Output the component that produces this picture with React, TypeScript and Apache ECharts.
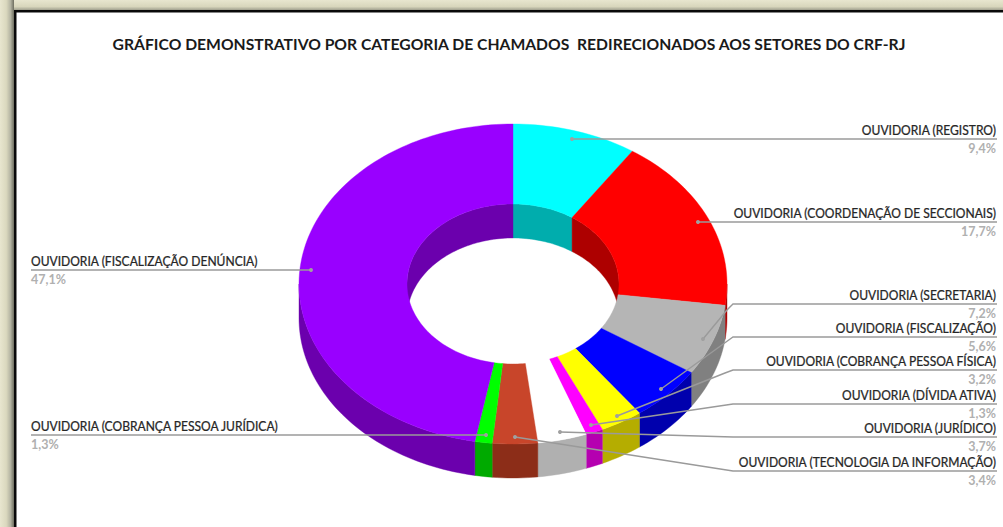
import React, { useEffect, useRef } from "react";
import * as echarts from "echarts";

const titleText = "GRÁFICO DEMONSTRATIVO POR CATEGORIA DE CHAMADOS  REDIRECIONADOS AOS SETORES DO CRF-RJ";
const categories = [
  "OUVIDORIA (REGISTRO)",
  "OUVIDORIA (COORDENAÇÃO DE SECCIONAIS)",
  "OUVIDORIA (SECRETARIA)",
  "OUVIDORIA (FISCALIZAÇÃO)",
  "OUVIDORIA (COBRANÇA PESSOA FÍSICA)",
  "OUVIDORIA (DÍVIDA ATIVA)",
  "OUVIDORIA (JURÍDICO)",
  "OUVIDORIA (TECNOLOGIA DA INFORMAÇÃO)",
  "OUVIDORIA (COBRANÇA PESSOA JURÍDICA)",
  "OUVIDORIA (FISCALIZAÇÃO DENÚNCIA)",
];
const shares = [9.4, 17.7, 7.2, 5.6, 3.2, 1.3, 3.7, 3.4, 1.3, 47.1];
const topColors = ["#00FFFF", "#FF0000", "#B5B5B5", "#0000FF", "#FFFF00", "#FF00FF", "#FFFFFF", "#C8452A", "#00FF00", "#9900FF"];
const wallColors = ["#00ADAD", "#AD0000", "#808080", "#0000AD", "#B5AD00", "#B500B0", "#B0B0B0", "#8C2D18", "#00AA00", "#6B00AD"];

// Annotation layout: polyline vertices of each leader, first vertex is the dot, last one the label end
const leaderLayout = [
  [[572, 139], [997, 139]],
  [[698, 222], [997, 222]],
  [[703, 339], [727, 310], [733, 304], [997, 304]],
  [[661, 389], [726, 342], [733, 337], [997, 337]],
  [[617, 416], [725, 373], [733, 370], [997, 370]],
  [[591, 425], [733, 404], [997, 404]],
  [[560, 432], [733, 437], [997, 437]],
  [[515, 437], [733, 471], [997, 471]],
  [[486, 435], [31, 435]],
  [[311, 270], [31, 270]],
];

const CX = 513, CY = 284, RX = 214, RY = 160, IRX = 106, IRY = 80, DEPTH = 34;
const FONT = "Lato";
const TAU = Math.PI * 2;

const total = shares.reduce((a, b) => a + b, 0);
let running = 0;
const sliceRows = shares.map((v, i) => {
  const start = (running / total) * TAU;
  running += v;
  return [start, (running / total) * TAU, i];
});

const ell = (t: number, rx: number, ry: number, dy = 0): number[] => [
  CX + rx * Math.sin(t),
  CY - ry * Math.cos(t) + dy,
];
const arc = (a: number, b: number, rx: number, ry: number, dy = 0): number[][] => {
  const n = Math.max(2, Math.ceil((Math.abs(b - a) / TAU) * 240));
  const pts: number[][] = [];
  for (let i = 0; i <= n; i++) pts.push(ell(a + ((b - a) * i) / n, rx, ry, dy));
  return pts;
};
const poly = (points: number[][], color: string) => ({
  type: "polygon",
  shape: { points },
  style: { fill: color, stroke: color, lineWidth: 0.4 },
});

const band = (a: number, b: number, rx: number, ry: number, color: string) =>
  poly([...arc(a, b, rx, ry), ...arc(a, b, rx, ry, DEPTH).reverse()], color);

function innerWall(params: any, api: any) {
  const a = api.value(0), b = api.value(1);
  const color = wallColors[params.dataIndex];
  const children: any[] = [];
  const s1 = Math.max(a, 0), e1 = Math.min(b, Math.PI / 2);
  const s2 = Math.max(a, (3 * Math.PI) / 2), e2 = Math.min(b, TAU);
  if (e1 > s1) children.push(band(s1, e1, IRX, IRY, color));
  if (e2 > s2) children.push(band(s2, e2, IRX, IRY, color));
  return { type: "group", children };
}
function outerWall(params: any, api: any) {
  const a = api.value(0), b = api.value(1);
  const color = wallColors[params.dataIndex];
  const s = Math.max(a, Math.PI / 2), e = Math.min(b, (3 * Math.PI) / 2);
  return { type: "group", children: e > s ? [band(s, e, RX, RY, color)] : [] };
}
function topFace(params: any, api: any) {
  const a = api.value(0), b = api.value(1);
  return poly([...arc(a, b, RX, RY), ...arc(a, b, IRX, IRY).reverse()], topColors[params.dataIndex]);
}

const sliceSeries = (renderItem: any, z: number) => ({
  type: "custom",
  coordinateSystem: "none",
  silent: true,
  z,
  data: sliceRows,
  renderItem,
});

const leaderGraphics = (): any[] => {
  const out: any[] = [];
  categories.forEach((name, i) => {
    const points = leaderLayout[i];
    const [dx, dy] = points[0];
    const [endX, ly] = points[points.length - 1];
    const leftSide = endX < dx;
    out.push({
      type: "polyline",
      z: 20,
      shape: { points },
      style: { stroke: "#9A9A9A", lineWidth: 1.4, fill: "none" },
    });
    out.push({ type: "circle", z: 21, shape: { cx: dx, cy: dy, r: 2 }, style: { fill: "#A0A0A0" } });
    const tx = leftSide ? endX : endX - 1;
    const align = leftSide ? "left" : "right";
    out.push({
      type: "text",
      z: 22,
      x: tx,
      y: ly - 9,
      scaleX: 0.957,
      style: {
        text: name,
        font: `400 12.6px ${FONT}`,
        fill: "#262626",
        stroke: "#262626",
        lineWidth: 0.25,
        textAlign: align,
        textVerticalAlign: "middle",
      },
    });
    out.push({
      type: "text",
      z: 22,
      x: tx,
      y: ly + 9.5,
      style: {
        text: shares[i].toFixed(1).replace(".", ",") + "%",
        font: `700 12.5px ${FONT}`,
        fill: "#B0B0B0",
        textAlign: align,
        textVerticalAlign: "middle",
      },
    });
  });
  return out;
};

const frameGraphics = (): any[] => [
  { type: "rect", z: 0, shape: { x: 0, y: 0, width: 1003, height: 527 }, style: { fill: "#FFFFFF" } },
  {
    type: "rect", z: 1, shape: { x: 0, y: 0, width: 1003, height: 11 },
    style: {
      fill: { type: "linear", x: 0, y: 0, x2: 0, y2: 1, colorStops: [
        { offset: 0, color: "#E8E6CF" }, { offset: 0.6, color: "#D8D6BC" }, { offset: 1, color: "#8F8F80" },
      ] },
    },
  },
  {
    type: "rect", z: 1, shape: { x: 0, y: 0, width: 14, height: 527 },
    style: {
      fill: { type: "linear", x: 0, y: 0, x2: 1, y2: 0, colorStops: [
        { offset: 0, color: "#E8E6CF" }, { offset: 0.45, color: "#DAD8BE" }, { offset: 0.75, color: "#B4B4A2" }, { offset: 1, color: "#6E6E60" },
      ] },
    },
  },
  { type: "rect", z: 2, shape: { x: 14, y: 10, width: 989, height: 2.5 }, style: { fill: "#0A0A0A" } },
  { type: "rect", z: 2, shape: { x: 14, y: 10, width: 2.5, height: 517 }, style: { fill: "#0A0A0A" } },
];

export default function App() {
  const ref = useRef<HTMLDivElement>(null);
  useEffect(() => {
    document.body.style.margin = "0";
    const chart = echarts.init(ref.current!, undefined, { renderer: "svg" });
    chart.setOption({
      animation: false,
      backgroundColor: "transparent",
      title: {
        text: titleText,
        left: 504,
        top: 31,
        textAlign: "center",
        textStyle: { fontFamily: FONT, fontWeight: 700, fontSize: 15.7, color: "#1A1A1A" },
      },
      graphic: { elements: [...frameGraphics(), ...leaderGraphics()] },
      series: [sliceSeries(innerWall, 5), sliceSeries(outerWall, 6), sliceSeries(topFace, 7)],
    });
    return () => chart.dispose();
  }, []);
  return <div ref={ref} style={{ position: "absolute", left: 0, top: 0, width: 1003, height: 527 }} />;
}
